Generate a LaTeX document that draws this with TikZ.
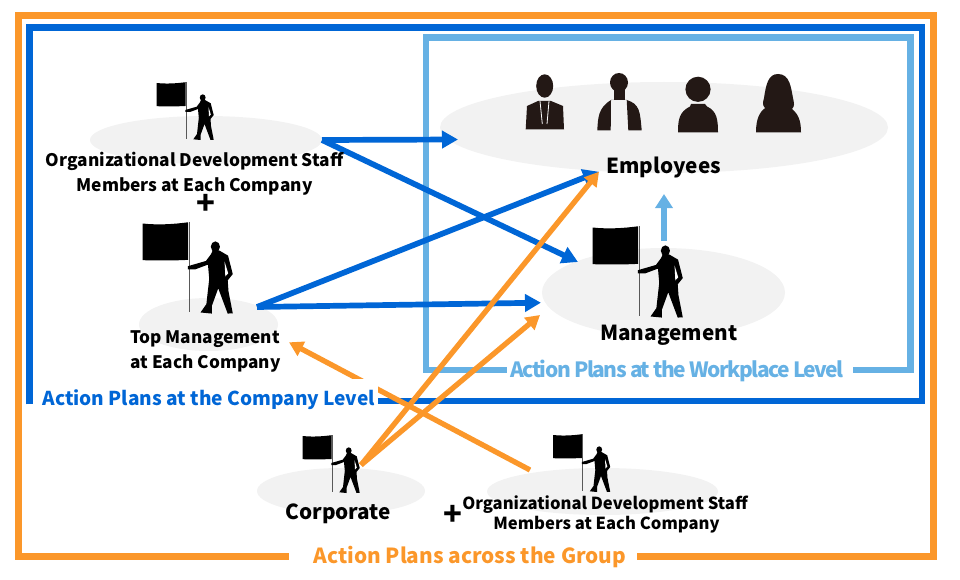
\documentclass[tikz,border=0pt]{standalone}
\usepackage{fontspec}
\newfontfamily\lab{Noto Sans CJK JP}
\usetikzlibrary{arrows.meta,shapes.geometric}
\definecolor{orangeC}{HTML}{FB972A}
\definecolor{blueC}{HTML}{0066D6}
\definecolor{skyC}{HTML}{66B1E4}
\definecolor{padC}{HTML}{F2F2F2}
\definecolor{darkC}{HTML}{231815}
\tikzset{
  pad/.style={shape=ellipse,fill=padC,inner sep=0pt,minimum width=#1},
  frameline/.style={line width=6.6pt,miter limit=10},
  txt/.style={inner sep=0pt,align=center,text=black,font=\lab\bfseries\fontsize{#1}{#1}\selectfont},
  blueArrow/.style={draw=blueC,line width=5.7pt,-{Triangle[length=16pt,width=17pt]}},
  orangeArrow/.style={draw=orangeC,line width=5.3pt,-{Triangle[length=14pt,width=15.5pt]}},
  skyArrow/.style={draw=skyC,line width=5.4pt,-{Triangle[length=14pt,width=17pt]}},
  flagman/.pic={
    \fill[black] (-29.3,-56) .. controls (-20,-55) and (-10,-55.5) .. (-0.5,-56.8)
      -- (-0.5,-33) .. controls (-10,-32.5) and (-20,-32.5) .. (-29.3,-32.8) -- cycle;
    \draw[line width=0.8pt,black!65] (0,-57) -- (0,0);
    \fill[black] (16.7,-41.3) ellipse [x radius=2.9,y radius=3.4];
    \fill[black] (-0.7,-29) -- (10.7,-32.3) -- (14,-36.7) -- (15,-39) -- (19,-39)
      -- (24.7,-35.7) -- (27.7,-24) -- (24.5,-20) -- (25,-13) -- (27.7,0.8) -- (24.5,1)
      -- (18.5,-15) -- (14.5,-4) -- (14.5,1) -- (7.3,0.3) -- (11,-5) -- (12.8,-21)
      -- (12,-30) -- (4,-27) -- (-0.7,-27) -- cycle;
    \fill[white] (22.5,-32) -- (24.8,-24.5) -- (23,-22.5) -- cycle;
  }
}
\begin{document}
\begin{tikzpicture}[x=1pt,y=-1pt]
\useasboundingbox (0,0) rectangle (960,580);
% pads
\node[pad=232pt,minimum height=48pt] (orgA) at (206,140) {};
\node[pad=139pt,minimum height=53pt] (top) at (208.5,324.5) {};
\node[pad=448pt,minimum height=91pt] (emp) at (664,127.5) {};
\node[pad=243pt,minimum height=89pt] (mgmt) at (663.5,292.5) {};
\node[pad=168pt,minimum height=46pt] (corp) at (341,491) {};
\node[pad=231pt,minimum height=47pt] (orgB) at (602.5,491.5) {};
% frames
\draw[frameline,orangeC] (288.7,556.7) -- (18.5,556.7) -- (18.5,15.7) -- (933.3,15.7) -- (933.3,556.7) -- (637,556.7);
\draw[frameline,skyC] (506.7,370) -- (426,370) -- (426,37.3) -- (910.7,37.3) -- (910.7,370) -- (852.7,370);
\draw[frameline,blueC] (29.3,404.3) -- (29.3,27.3) -- (922,27.3) -- (922,401) -- (377.7,401);
% figures
\pic at (186,139) {flagman};
\pic[scale=1.58] at (189,312) {flagman};
\pic[scale=1.58] at (639,316) {flagman};
\pic at (332,492) {flagman};
\pic at (582.5,491) {flagman};
% employees
\fill[darkC] (544.7,86) ellipse [x radius=8.5,y radius=11.7];
\fill[darkC] (525.7,129.3) -- (527,106) -- (538,101) -- (551,101) -- (563,106) -- (564,129.3) -- cycle;
\draw[white,line width=0.8pt] (540,101) -- (542.3,124) (549,101) -- (547,124);
\fill[darkC] (619,82.5) ellipse [x radius=9,y radius=9.5];
\fill[darkC] (613.5,88) rectangle (624.5,100);
\fill[darkC] (597.3,130.3) .. controls (598,118) and (598,108) .. (611,100) -- (626.7,100)
  .. controls (640,104) and (640,112) .. (641.7,130.3) -- (628.3,130.3) -- (626.7,100) -- (611,100) -- (610.7,130.3) -- cycle;
\fill[darkC] (698,89.3) circle (12.6);
\fill[darkC] (678,132.3) .. controls (678,120) and (679,112) .. (690,106.5) -- (691,104) -- (705,104) -- (707,106.5)
  .. controls (717,111) and (718,120) .. (718,132.3) -- cycle;
\fill[darkC] (756,132.3) .. controls (756,118) and (760,112) .. (765,108) .. controls (762,105) and (763,102) .. (764,98)
  .. controls (766,85) and (768,74) .. (778,74) .. controls (790,74) and (791,88) .. (793,98)
  .. controls (794,103) and (795,106) .. (792,109) .. controls (798,114) and (801,120) .. (801,132.3) -- cycle;
% connectors
\coordinate (a1s) at (322,140);
\coordinate (a1e) at (458,139.5);
\coordinate (a2e) at (578,262);
\coordinate (a3s) at (257,307);
\coordinate (a3e) at (599,171.7);
\coordinate (a4e) at (541,302.7);
\coordinate (o1s) at (361,465);
\coordinate (o2e) at (540,315);
\coordinate (o3s) at (530,470);
\coordinate (o3e) at (289,342.3);
\coordinate (s1s) at (664,241);
\coordinate (s1e) at (664,194);
\draw[blueArrow] (a1s) -- (a1e);
\draw[blueArrow] (a1s) -- (a2e);
\draw[blueArrow] (a3s) -- (a3e);
\draw[blueArrow] (a3s) -- (a4e);
\draw[orangeArrow] (o1s) -- (a3e);
\draw[orangeArrow] (o1s) -- (o2e);
\draw[orangeArrow] (o3s) -- (o3e);
\draw[skyArrow] (s1s) -- (s1e);
% mask behind the company-level label
\fill[white] (36,379.3) rectangle (378,412);
% labels
\node[txt=17.3,anchor=base] (l1a) at (194.6,167) {Organizational Development Staff};
\node[txt=17.3,anchor=base] (l1b) at (194.6,191.7) {Members at Each Company};
\node[txt=31,anchor=center] (p1) at (206,204) {+};
\node[txt=17.2,anchor=base] (l2a) at (205,343) {Top Management};
\node[txt=17.2,anchor=base] (l2b) at (205.5,368) {at Each Company};
\node[txt=20.7,anchor=base] (l3) at (663.7,174) {Employees};
\node[txt=20.7,anchor=base] (l4) at (668.8,340.5) {Management};
\node[txt=20.7,anchor=base] (l5) at (338.3,519) {Corporate};
\node[txt=31,anchor=center] (p2) at (453,515) {+};
\node[txt=16.6,anchor=base] (l6a) at (605,509) {Organizational Development Staff};
\node[txt=16.6,anchor=base] (l6b) at (606.5,529) {Members at Each Company};
\node[txt=19.1,anchor=base west,text=blueC] (l7) at (42.3,405) {Action Plans at the Company Level};
\node[txt=21,anchor=base west,text=skyC] (l8) at (510,377) {\addfontfeature{LetterSpace=-7.2}Action Plans at the Workplace Level};
\node[txt=20.8,anchor=base west,text=orangeC] (l9) at (313.3,563) {Action Plans across the Group};
\end{tikzpicture}
\end{document}
